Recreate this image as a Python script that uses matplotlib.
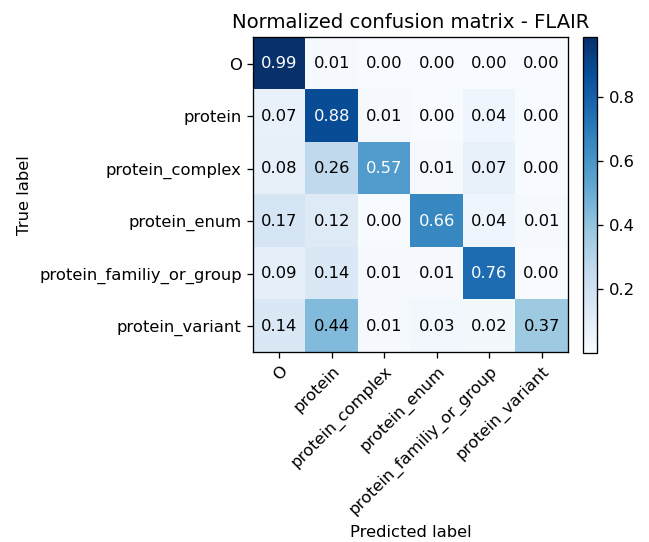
import matplotlib
matplotlib.use("Agg")
import matplotlib.pyplot as plt
import numpy as np

classes = ["O", "protein", "protein_complex", "protein_enum",
           "protein_familiy_or_group", "protein_variant"]

row_O = [0.99, 0.01, 0.00, 0.00, 0.00, 0.00]
row_protein = [0.07, 0.88, 0.01, 0.00, 0.04, 0.00]
row_complex = [0.08, 0.26, 0.57, 0.01, 0.07, 0.00]
row_enum = [0.17, 0.12, 0.00, 0.66, 0.04, 0.01]
row_family = [0.09, 0.14, 0.01, 0.01, 0.76, 0.00]
row_variant = [0.14, 0.44, 0.01, 0.03, 0.02, 0.37]

cm = np.array([row_O, row_protein, row_complex, row_enum, row_family, row_variant])

dpi = 118
fig = plt.figure(figsize=(649 / dpi, 542 / dpi), dpi=dpi)
ax = fig.add_axes([0.390, 0.349, 0.485, 0.583])
cax = fig.add_axes([0.898, 0.349, 0.022, 0.583])

im = ax.imshow(cm, interpolation="nearest", cmap=plt.cm.Blues)
ax.set_title("Normalized confusion matrix - FLAIR")
cb = fig.colorbar(im, cax=cax)
cb.set_ticks([0.2, 0.4, 0.6, 0.8])

ticks = np.arange(len(classes))
ax.set_xticks(ticks)
ax.set_xticklabels(classes, rotation=45, ha="right", rotation_mode="anchor")
ax.set_yticks(ticks)
ax.set_yticklabels(classes)

thresh = cm.max() / 2.0
for i in range(cm.shape[0]):
    for j in range(cm.shape[1]):
        ax.text(j, i, format(cm[i, j], ".2f"),
                ha="center", va="center",
                color="white" if cm[i, j] > thresh else "black")

ax.set_ylabel("True label")
ax.set_xlabel("Predicted label")

fig.savefig("out.png", dpi=dpi)
